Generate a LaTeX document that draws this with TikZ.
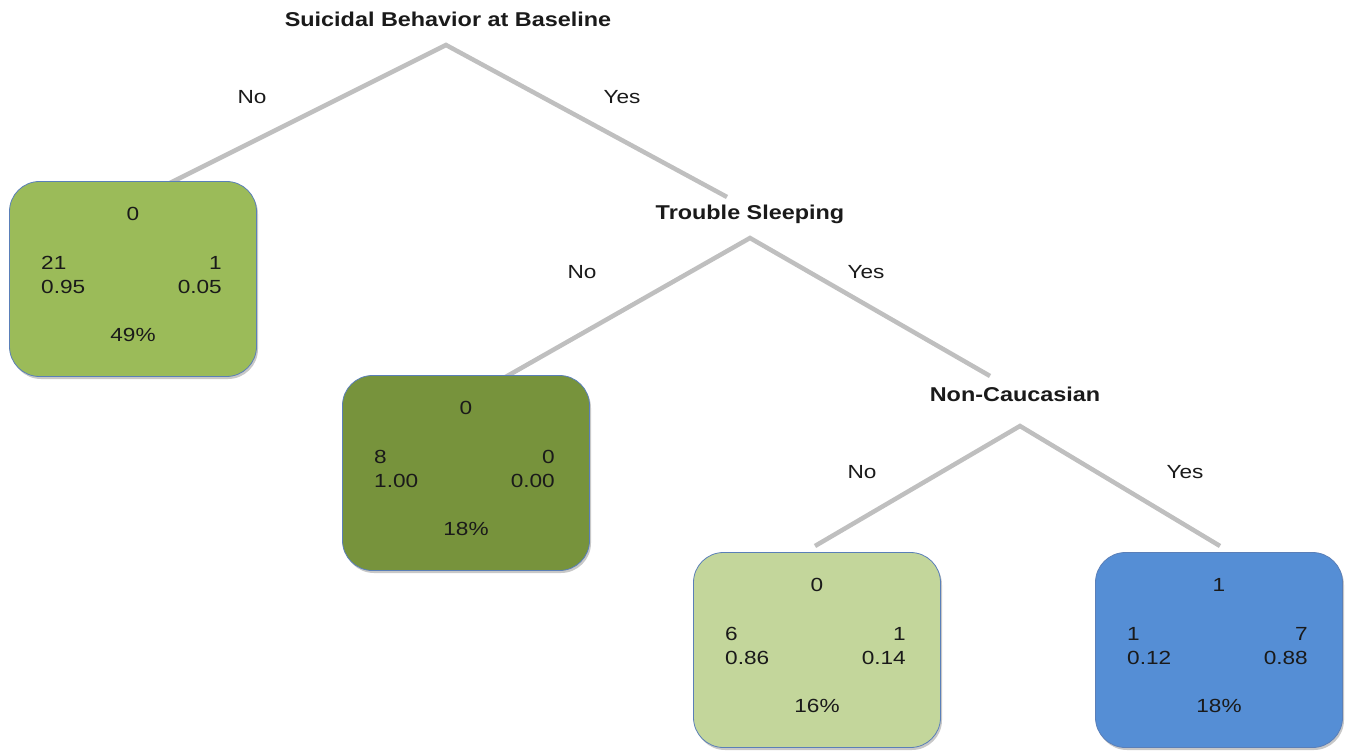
\documentclass[tikz,border=0pt]{standalone}
\usepackage{fontspec}
\setmainfont{Liberation Sans}
\newfontfamily\splitfont[FakeStretch=1.17]{Liberation Sans Bold}
\newfontfamily\valfont[FakeStretch=1.19]{Liberation Sans}
\definecolor{edgegray}{HTML}{BFBFBF}
\definecolor{boxborder}{HTML}{5A7FB8}
\definecolor{leafA}{HTML}{9BBB59}
\definecolor{leafB}{HTML}{77933C}
\definecolor{leafC}{HTML}{C3D69B}
\definecolor{leafD}{HTML}{558ED5}
\definecolor{txt}{HTML}{1A1A1A}
\definecolor{shade}{HTML}{C8C8C8}
\tikzset{
  edge/.style={draw=edgegray, line width=4.5pt},
  leaf/.style={draw=boxborder, line width=0.8pt, rounded corners=30pt, minimum width=247pt, minimum height=195pt, inner sep=0pt},
  leafshadow/.style={fill=shade, rounded corners=30pt, minimum width=247pt, minimum height=195pt, inner sep=0pt},
  split/.style={font=\splitfont\fontsize{20}{23}\selectfont, text=txt, inner sep=0pt},
  branch/.style={font=\valfont\fontsize{19}{22}\selectfont, text=txt, inner sep=0pt},
  val/.style={font=\valfont\fontsize{19}{22}\selectfont, text=txt, inner sep=0pt},
}
\begin{document}
\begin{tikzpicture}[x=1pt,y=-1pt]
\useasboundingbox (0,0) rectangle (1350,754);
% split labels
\node[split] (s1) at (448,19) {Suicidal Behavior at Baseline};
\node[split] (s2) at (750,214) {Trouble Sleeping};
\node[split] (s3) at (1015,394) {Non-Caucasian};
% apex and end coordinates
\coordinate (a1) at (446,45);
\coordinate (e1l) at (168,184);
\coordinate (e1r) at (727,197);
\coordinate (a2) at (750,238);
\coordinate (e2l) at (502,379);
\coordinate (e2r) at (990,376);
\coordinate (a3) at (1020,426);
\coordinate (e3l) at (815,546);
\coordinate (e3r) at (1220,546);
% edges
\draw[edge] (e1l) -- (a1) -- (e1r);
\draw[edge] (e2l) -- (a2) -- (e2r);
\draw[edge] (e3l) -- (a3) -- (e3r);
% branch labels
\node[branch] (n1) at (252,97) {No};
\node[branch] (y1) at (622,97) {Yes};
\node[branch] (n2) at (582,272) {No};
\node[branch] (y2) at (866,272) {Yes};
\node[branch] (n3) at (862,472) {No};
\node[branch] (y3) at (1185,472) {Yes};
% leaves
\newcommand{\leafnode}[9]{%
  \node[leafshadow] (#1s) at ([shift={(1.5,2.5)}]#3) {};
  \node[leaf, fill=#2] (#1) at (#3) {};
  \node[val] (#1c) at ([shift={(0,-65)}]#1.center) {#4};
  \node[val, anchor=west] (#1n1) at ([shift={(-92,-16)}]#1.center) {#5};
  \node[val, anchor=west] (#1p1) at ([shift={(-92,8)}]#1.center) {#6};
  \node[val, anchor=east] (#1n2) at ([shift={(89,-16)}]#1.center) {#7};
  \node[val, anchor=east] (#1p2) at ([shift={(89,8)}]#1.center) {#8};
  \node[val] (#1pc) at ([shift={(0,56)}]#1.center) {#9};
}
\leafnode{L1}{leafA}{133,279}{0}{21}{0.95}{1}{0.05}{49\%}
\leafnode{L2}{leafB}{466,473}{0}{8}{1.00}{0}{0.00}{18\%}
\leafnode{L3}{leafC}{817,650}{0}{6}{0.86}{1}{0.14}{16\%}
\leafnode{L4}{leafD}{1219,650}{1}{1}{0.12}{7}{0.88}{18\%}
\end{tikzpicture}
\end{document}
